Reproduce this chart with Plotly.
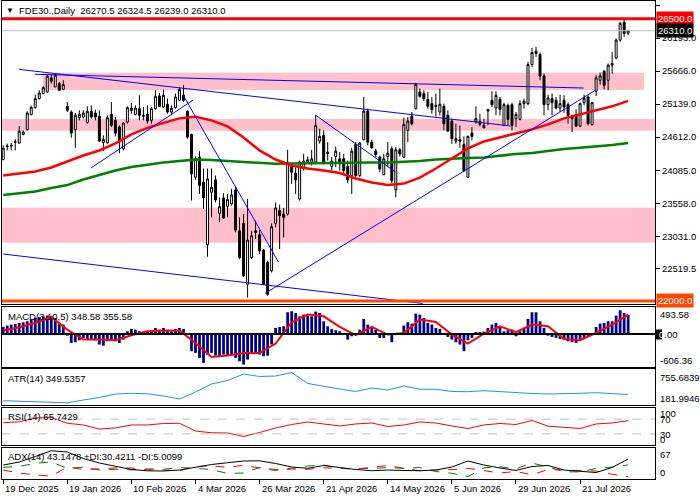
import plotly.graph_objects as go
from plotly.subplots import make_subplots

# daily candles, bar 0 = 19 Dec 2025 (MT4 style, no gaps between sessions)
opens = [24256, 24460, 24470, 24530, 24517, 24656, 24731, 24971, 25083, 25227,
         25307, 25333, 25557, 25413, 25467, 25376, 25104, 25013, 24731, 24923,
         24933, 24848, 25024, 24997, 24944, 24528, 24523, 24976, 24880, 24773,
         24427, 24853, 25077, 24976, 25067, 24944, 24976, 24880, 25067, 25269,
         25093, 25136, 25013, 25083, 25200, 25280, 25024, 24656, 23973, 24293,
         23893, 22896, 23733, 23931, 23397, 23643, 23509, 23547, 23771, 23120,
         23237, 22267, 22693, 23120, 23056, 22811, 22613, 22480, 23237, 23440,
         23387, 23387, 24144, 24037, 23627, 24123, 24213, 24213, 24213, 24549,
         24640, 24373, 24144, 24304, 24267, 24267, 24144, 24000, 24496, 24000,
         24571, 25029, 24533, 24389, 24293, 24016, 24304, 24427, 23771, 24411,
         24293, 24720, 24944, 25067, 25333, 25307, 25211, 25147, 25120, 25013,
         25104, 24960, 24869, 24549, 24571, 24496, 23973, 24677, 24864, 24864,
         24763, 25051, 25200, 25077, 25216, 24800, 25120, 25131, 24907, 24896,
         25147, 25147, 25771, 25984, 25931, 25589, 25131, 25227, 25200, 25077,
         25200, 25131, 24949, 24971, 24789, 25163, 25253, 24811, 25344, 25520,
         25664, 25520, 25760, 25877, 26160, 26443, 26270.5]
highs = [24480, 24510, 24520, 24580, 24789, 24720, 25024, 25115, 25291, 25360,
         25424, 25600, 25616, 25627, 25493, 25520, 25173, 25040, 24997, 25040,
         25040, 25104, 25120, 25051, 25040, 24640, 24960, 25173, 24933, 24800,
         24853, 25104, 25157, 25120, 25280, 25093, 25120, 25093, 25360, 25317,
         25371, 25227, 25120, 25307, 25408, 25440, 25040, 24667, 24304, 24389,
         24112, 24112, 24112, 24000, 23653, 23717, 23707, 23787, 23824, 23333,
         23387, 23627, 23120, 23280, 23131, 22827, 22640, 23237, 23573, 23536,
         23483, 24411, 24187, 24133, 24240, 24347, 24304, 24411, 24960, 24747,
         24720, 24533, 24293, 24464, 24373, 24347, 24240, 24443, 24533, 24533,
         25253, 25067, 24571, 24427, 24320, 24347, 24533, 24464, 24453, 24443,
         24923, 24933, 25013, 25477, 25387, 25360, 25333, 25253, 25307, 25387,
         25147, 25040, 24907, 24827, 24800, 24624, 24640, 24773, 25104, 24987,
         24907, 25067, 25344, 25344, 25253, 25163, 25147, 25163, 25013, 25200,
         25227, 25813, 26037, 26053, 25963, 25627, 25291, 25307, 25253, 25291,
         25280, 25163, 24971, 25056, 25163, 25291, 25280, 25173, 25600, 25643,
         25680, 25787, 25973, 26187, 26453, 26517, 26324.5]
lows = [24240, 24400, 24400, 24400, 24507, 24640, 24720, 24960, 25067, 25211,
        25296, 25323, 25467, 25408, 25349, 25360, 25013, 24603, 24443, 24880,
        24907, 24827, 24907, 24880, 24533, 24389, 24507, 24773, 24624, 24357,
        24400, 24827, 24987, 24960, 24880, 24880, 24827, 24827, 25051, 25093,
        25083, 24987, 24960, 25067, 25189, 25173, 24587, 23600, 23931, 23707,
        23467, 22704, 23333, 23573, 23253, 23307, 23333, 23520, 23093, 22667,
        22384, 22053, 22667, 22987, 22747, 22256, 22080, 22453, 23173, 22827,
        23013, 23360, 23867, 23707, 23600, 24080, 24187, 24160, 24213, 24507,
        24176, 24240, 24080, 24133, 24080, 24027, 23877, 23707, 23973, 23973,
        24560, 24480, 24427, 24293, 24053, 24000, 24133, 23877, 23653, 24304,
        24283, 24533, 24800, 25051, 25243, 25189, 25067, 24987, 24944, 24960,
        24720, 24693, 24507, 24507, 24443, 24053, 23963, 24560, 24827, 24784,
        24747, 24800, 25093, 24960, 24960, 24789, 24800, 24720, 24773, 24880,
        25067, 25120, 25733, 25893, 25520, 24960, 25040, 24960, 25056, 25013,
        25003, 24827, 24693, 24773, 24773, 25120, 24800, 24800, 25269, 25451,
        25376, 25360, 25627, 25856, 26133, 26213, 26239.0]
closes = [24437, 24470, 24480, 24540, 24709, 24693, 24997, 25088, 25227, 25317,
          25403, 25584, 25504, 25600, 25360, 25451, 25040, 24677, 24960, 24976,
          24997, 25024, 24933, 24933, 24549, 24576, 24923, 24800, 24677, 24533,
          24837, 25083, 25040, 25077, 24960, 24960, 24869, 25067, 25264, 25104,
          25280, 25013, 25072, 25253, 25371, 25200, 24613, 24027, 24267, 23840,
          23643, 23947, 23813, 23611, 23504, 23323, 23616, 23691, 23131, 22693,
          22400, 22971, 23040, 23093, 22800, 22267, 22107, 23184, 23483, 23360,
          23333, 24213, 24053, 23931, 24213, 24229, 24251, 24267, 24800, 24624,
          24213, 24347, 24229, 24389, 24187, 24080, 23931, 24389, 24000, 24517,
          25029, 24533, 24443, 24336, 24107, 24267, 24357, 23920, 24411, 24347,
          24816, 24869, 24827, 25456, 25264, 25227, 25104, 25051, 25104, 25136,
          24827, 24709, 24587, 24587, 24549, 24080, 24624, 24624, 24907, 24816,
          24800, 25029, 25131, 25280, 25056, 25131, 24896, 24800, 24976, 25147,
          25184, 25771, 25963, 25947, 25589, 25131, 25237, 25163, 25077, 25147,
          25093, 24960, 24907, 24789, 25147, 25227, 24827, 25163, 25557, 25589,
          25440, 25760, 25787, 26160, 26427, 26267, 26310.0]

# MACD histogram, one value per bar
macd_hist = [128, 153, 171, 183, 201, 214, 232, 262, 293, 311,
             323, 336, 323, 293, 201, 171, -31, -165, -153, -116,
             -73, -92, -104, -116, -195, -214, -134, -116, -134, -165,
             -104, 49, 92, 79, 49, 37, 18, 49, 110, 79,
             110, 61, 49, 92, 110, 92, -12, -317, -348, -439,
             -531, -378, -348, -397, -421, -378, -397, -378, -439, -500,
             -561, -470, -348, -336, -378, -409, -397, -195, 110, 128,
             140, 397, 415, 384, 323, 354, 336, 323, 409, 384,
             232, 140, 92, 67, 49, -12, -104, -43, -12, 79,
             275, 171, 110, 79, -73, -73, -12, -153, -18, -12,
             153, 214, 189, 372, 354, 293, 201, 171, 110, 92,
             -18, -55, -104, -153, -195, -317, -116, -73, 31, 31,
             43, 110, 171, 201, 140, 49, 67, 79, -43, 49,
             92, 275, 397, 397, 232, 110, -31, -55, -73, -92,
             -104, -134, -153, -165, -104, -73, -43, -12, 128, 189,
             201, 232, 232, 336, 433, 384, 348.58]

# lines read every 4th bar
line_idx = list(range(0, 157, 4))
ma_red = [24000, 24032, 24064, 24128, 24224, 24320, 24400, 24512, 24656, 24760,
          24840, 24912, 24936, 24880, 24784, 24608, 24400, 24256, 24160, 24112,
          24080, 24040, 23952, 23888, 23851, 23872, 23968, 24112, 24272, 24432,
          24544, 24608, 24664, 24736, 24816, 24912, 24976, 25040, 25104, 25192]
ma_green = [23691, 23712, 23744, 23800, 23848, 23936, 24008, 24080, 24136, 24176,
            24208, 24232, 24256, 24248, 24232, 24216, 24200, 24187, 24192, 24197,
            24203, 24208, 24208, 24208, 24208, 24216, 24232, 24256, 24272, 24280,
            24288, 24320, 24344, 24360, 24392, 24424, 24443, 24464, 24488, 24520]
macd_signal = [61, 122, 201, 311, 79, -104, -104, -116, -24, 49,
               61, 61, -165, -421, -397, -348, -348, -177, 214, 354,
               323, 128, -24, 128, -12, 18, 262, 220, -12, -177,
               6, 140, 31, 171, 140, -92, -116, 18, 171, 355.58]
atr = [250.5, 242.6, 233, 218.7, 217, 261.7, 301.5, 357.3, 368.5, 360.5,
       325.5, 277.6, 389.2, 516.7, 572.5, 676.1, 636.3, 644.3, 700.0, 524.7,
       476.9, 437, 397.2, 453, 421.1, 484.9, 432.3, 432.3, 397.2, 394,
       410, 394, 373.3, 365.3, 357.3, 368.5, 368.5, 378.1, 368.5, 349.5357]
rsi = [60.3, 62.7, 73, 74.3, 58.7, 54.1, 43.2, 46, 54.1, 54.1,
       58.1, 58.7, 37.8, 33, 32.4, 23, 33.8, 46, 55.4, 62.2,
       56.8, 51.4, 56.8, 59.5, 50, 54.1, 62.2, 59.5, 51.4, 44.6,
       54.1, 58.1, 55.4, 66.2, 50.8, 48.7, 44.6, 56.8, 59.5, 65.7429]
adx = [30.2, 36.7, 48.6, 61.1, 58.3, 44.3, 34.6, 27, 20.5, 17.7,
       17.3, 19.4, 25.5, 31.3, 35.2, 38.9, 39.3, 33.5, 25.9, 23.1,
       29.2, 24.8, 20.5, 17.9, 19.4, 18.4, 17.9, 19.4, 25.9, 38.9,
       30.2, 23.8, 18.4, 27, 29.2, 19.4, 16.2, 14, 24.8, 43.1478]
plus_di = [25.3, 27, 34.1, 36.7, 23.1, 25.3, 19.4, 21, 19.9, 22,
           21, 24.8, 23.1, 20.5, 11.9, 13, 24.8, 20.5, 23.1, 28.1,
           30.2, 22.7, 22.7, 22.7, 24.8, 23.1, 24.8, 16.2, 12.3, 5,
           24.2, 26.4, 22, 34.6, 25.9, 15.8, 15.1, 23.1, 25.9, 30.4211]
minus_di = [19.4, 13, 8.6, 6.5, 25.9, 20.5, 22, 23.8, 23.8, 19.9,
            19.4, 17.9, 27, 28.1, 25.3, 29.6, 23.8, 18.4, 21.6, 21,
            24.2, 22.7, 21.6, 25.3, 29.2, 23.1, 17.9, 19.4, 20.3, 23.1,
            17.3, 13, 16.2, 9.1, 20.5, 19.4, 17.9, 17.3, 10.4, 5.0099]

# drawn trendlines: start bar, start price, end bar, end price
trend_x0 = [3.9, 7.9, 21.9, 44.9, 0, 65.4, 77.9]
trend_p0 = [25694, 25615, 24120, 25285, 22748, 22122, 24966]
trend_x1 = [126.7, 144.9, 47.4, 68.7, 104.7, 147.9, 97.9]
trend_p1 = [24790, 25396, 25205, 22621, 21960, 25364, 24056]

# support / resistance zones
zone_low = [25364, 24715, 22929]
zone_high = [25640, 24902, 23487]
zone_start = [9.9, None, None]
zone_end = [160, None, None]

date_idx = [0, 16, 32, 48, 64, 80, 96, 112, 128, 144]
date_labels = ["19 Dec 2025", "19 Jan 2026", "10 Feb 2026", "4 Mar 2026", "26 Mar 2026",
               "21 Apr 2026", "14 May 2026", "5 Jun 2026", "29 Jun 2026", "21 Jul 2026"]
price_ticks = [26720.0, 26193.0, 25666.0, 25139.0, 24612.0, 24085.0, 23558.0, 23031.0, 22519.5]

bars = list(range(len(closes)))
FONT = "Liberation Sans"


def py(pix):
    # pixel row -> paper fraction (plot area spans rows 1..479)
    return (479 - pix) / 478


def px(pix):
    return (pix - 2) / 653


fig = make_subplots(rows=5, cols=1, shared_xaxes=True, vertical_spacing=0.01)

fig.add_trace(go.Candlestick(
    x=bars, open=opens, high=highs, low=lows, close=closes,
    increasing=dict(fillcolor="white", line=dict(color="black", width=1)),
    decreasing=dict(fillcolor="black", line=dict(color="black", width=1)),
    whiskerwidth=0, showlegend=False, hoverinfo="skip"), row=1, col=1)

fig.add_trace(go.Scatter(x=line_idx, y=ma_green, mode="lines",
                         line=dict(color="#008000", width=2.5)), row=1, col=1)
fig.add_trace(go.Scatter(x=line_idx, y=ma_red, mode="lines",
                         line=dict(color="#ff0000", width=2.5)), row=1, col=1)

for a, b, c, d in zip(trend_x0, trend_p0, trend_x1, trend_p1):
    fig.add_trace(go.Scatter(x=[a, c], y=[b, d], mode="lines",
                             line=dict(color="#0000ff", width=1)), row=1, col=1)

fig.add_trace(go.Bar(x=bars, y=macd_hist, marker_color="#00008b",
                     marker_line_width=0, width=0.7), row=2, col=1)
fig.add_trace(go.Scatter(x=line_idx, y=macd_signal, mode="lines",
                         line=dict(color="#ff0000", width=2)), row=2, col=1)

fig.add_trace(go.Scatter(x=line_idx, y=atr, mode="lines",
                         line=dict(color="#1e90ff", width=1)), row=3, col=1)

fig.add_trace(go.Scatter(x=line_idx, y=rsi, mode="lines",
                         line=dict(color="#ff0000", width=1)), row=4, col=1)

fig.add_trace(go.Scatter(x=line_idx, y=plus_di, mode="lines",
                         line=dict(color="#008000", width=1, dash="dash")), row=5, col=1)
fig.add_trace(go.Scatter(x=line_idx, y=minus_di, mode="lines",
                         line=dict(color="#ff0000", width=1, dash="dash")), row=5, col=1)
fig.add_trace(go.Scatter(x=line_idx, y=adx, mode="lines",
                         line=dict(color="black", width=1)), row=5, col=1)

# shapes
shapes = []
for lo, hi, s, e in zip(zone_low, zone_high, zone_start, zone_end):
    if s is None:
        shapes.append(dict(type="rect", xref="paper", x0=0, x1=1, yref="y", y0=lo, y1=hi,
                           fillcolor="pink", line_width=0, layer="below"))
    else:
        shapes.append(dict(type="rect", xref="x", x0=s, x1=e, yref="y", y0=lo, y1=hi,
                           fillcolor="pink", line_width=0, layer="below"))
shapes += [
    dict(type="line", xref="paper", x0=0, x1=1, yref="y", y0=26310, y1=26310,
         line=dict(color="#c0c0c0", width=1)),
    dict(type="line", xref="paper", x0=0, x1=1, yref="y", y0=26500, y1=26500,
         line=dict(color="#ff0000", width=3)),
    dict(type="line", xref="paper", x0=0, x1=1, yref="y", y0=22000, y1=22000,
         line=dict(color="#ff4500", width=3)),
    dict(type="line", xref="paper", x0=0, x1=1, yref="y2", y0=0, y1=0,
         line=dict(color="black", width=2)),
    dict(type="line", xref="paper", x0=0, x1=1, yref="y4", y0=70, y1=70,
         line=dict(color="#c0c0c0", width=1, dash="dash")),
    dict(type="line", xref="paper", x0=0, x1=1, yref="y4", y0=30, y1=30,
         line=dict(color="#c0c0c0", width=1, dash="dash")),
    dict(type="rect", xref="paper", x0=px(656), x1=px(662), yref="paper",
         y0=py(339.5), y1=py(329.5), fillcolor="black", line_width=0),
]

anns = []


def note(text, x, y, xref="paper", yref="paper", xanchor="left", size=9.5, **kw):
    anns.append(dict(text=text, x=x, y=y, xref=xref, yref=yref, xanchor=xanchor,
                     yanchor="middle", showarrow=False,
                     font=dict(family=FONT, size=size, color=kw.pop("color", "black")), **kw))


note("\u25bc", px(10), py(10.5), xanchor="center", size=8)
note("FDE30.,Daily  26270.5 26324.5 26239.0 26310.0", px(17), py(10.5))

note("MACD(3,10,5) 348.58 355.58", px(6), py(316))
note("ATR(14) 349.5357", px(6), py(378))
note("RSI(14) 65.7429", px(6), py(416))
note("ADX(14) 43.1478 +DI:30.4211 -DI:5.0099", px(6), py(456.7))

# price axis badges
note("26500.0", 1, 26500, yref="y", xshift=1, bgcolor="#ff0000", color="white", borderpad=1)
note("26310.0", 1, 26310, yref="y", xshift=1, bgcolor="black", color="white", borderpad=1)
note("22000.0", 1, 22000, yref="y", xshift=1, bgcolor="#ff4500", color="white", borderpad=1)

# sub window scales
note("493.58", px(658), py(314))
note('<span style="color:white">0</span>.00', px(656.5), py(334.5))
note("-606.36", px(658), py(360))
note("755.6839", px(658), py(377))
note("181.9946", px(658), py(398))
note("100", px(658), py(413.3))
note("70", px(658), py(419.3))
note("30", px(658), py(434.3))
note("0", px(658), py(439.3))
note("67", px(658), py(454))
note("0", px(658), py(472))

for i, lab in zip(date_idx, date_labels):
    note(lab, i, py(488), xref="x5", xshift=0)

fig.update_layout(
    width=700, height=500, margin=dict(l=2, r=45, t=1, b=21),
    plot_bgcolor="white", paper_bgcolor="white", showlegend=False,
    font=dict(family=FONT, size=9.5, color="black"),
    shapes=shapes, annotations=anns, hovermode=False,
)

axis_common = dict(showgrid=False, zeroline=False, showline=True, mirror=True,
                   linecolor="black", linewidth=1)
for n in range(1, 6):
    name = "xaxis" if n == 1 else "xaxis%d" % n
    fig.layout[name].update(range=[-0.3, 162.7], showticklabels=False, ticks="",
                            rangeslider=dict(visible=False), **axis_common)
fig.layout.xaxis5.update(ticks="outside", ticklen=4, tickcolor="black",
                         tickvals=date_idx)

fig.layout.yaxis.update(domain=[py(304), 1], range=[21951, 26784], side="right",
                        tickvals=price_ticks, ticktext=["%.1f" % v for v in price_ticks],
                        ticks="outside", ticklen=4, tickcolor="black",
                        tickfont=dict(family=FONT, size=9.5), **axis_common)
fig.layout.yaxis2.update(domain=[py(367), py(307)], range=[-606.36, 493.58],
                         showticklabels=False, ticks="", **axis_common)
fig.layout.yaxis3.update(domain=[py(405), py(369)], range=[181.9946, 755.6839],
                         showticklabels=False, ticks="", **axis_common)
fig.layout.yaxis4.update(domain=[py(445), py(408)], range=[0, 100],
                         showticklabels=False, ticks="", **axis_common)
fig.layout.yaxis5.update(domain=[0, py(448)], range=[0, 67],
                         showticklabels=False, ticks="", **axis_common)

# the page's default body margin would push the 700x500 figure off the window
fig.write_html("out.html", config={"displayModeBar": False},
               post_script="document.body.style.margin='0';")
